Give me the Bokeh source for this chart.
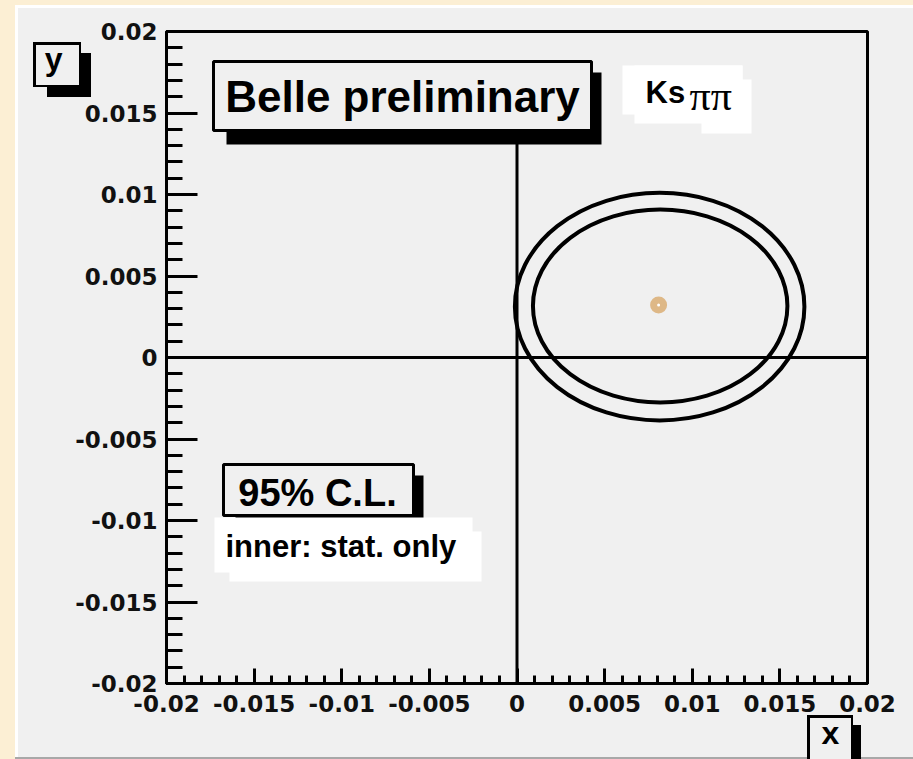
from bokeh.plotting import figure
from bokeh.models import BoxAnnotation, Label, Range1d, FixedTicker, LinearAxis
from bokeh.embed import file_html
from bokeh.resources import INLINE

# ---------------- data ----------------
x_major_ticks = [-0.02, -0.015, -0.01, -0.005, 0.0, 0.005, 0.01, 0.015, 0.02]
x_tick_labels = ["-0.02", "-0.015", "-0.01", "-0.005", "0", "0.005", "0.01", "0.015", "0.02"]
y_major_ticks = [-0.02, -0.015, -0.01, -0.005, 0.0, 0.005, 0.01, 0.015, 0.02]
y_tick_labels = ["-0.02", "-0.015", "-0.01", "-0.005", "0", "0.005", "0.01", "0.015", "0.02"]
minor_ticks = [i * 0.001 for i in range(-20, 21)]

# 95% C.L. contours (outer: stat.+syst., inner: stat. only)
contour_names = ["outer", "inner"]
contour_cx = [0.00814, 0.00817]
contour_cy = [0.00312, 0.00316]
contour_w = [0.01652, 0.01452]
contour_h = [0.01396, 0.01183]

# best fit point
best_x = [0.00808]
best_y = [0.00322]

# reference lines x=0 and y=0
ref_x0 = [0.0, -0.02]
ref_y0 = [-0.02, 0.0]
ref_x1 = [0.0, 0.02]
ref_y1 = [0.0135, 0.0]

# axis titles (placed at the pad corners as in ROOT)
x_title = "x"
y_title = "y"
x_title_pos = 0.01789
y_title_pos = 0.01829

# ---------------- layout ----------------
W, H = 913, 759
FL, FR, FT, FB = 166, 867, 31, 683
CREAM = "#fcefd4"
PAD = "#f0f0f0"

p = figure(width=W, height=H, output_backend="svg", toolbar_location=None,
           x_range=Range1d(-0.02, 0.02), y_range=Range1d(-0.02, 0.02),
           min_border_left=FL, min_border_right=W - FR,
           min_border_top=FT, min_border_bottom=H - FB)
p.border_fill_color = None
p.background_fill_color = PAD
p.outline_line_color = "black"
p.outline_line_width = 3
p.xgrid.visible = False
p.ygrid.visible = False


def css_rect(l, t, r, b, color):
    return f"linear-gradient({color},{color}) {l}px {t}px / {r - l}px {b - t}px no-repeat"


# page decorations outside the frame (drawn as CSS background layers, top first)
layers = [
    css_rect(809.5, 717.5, 850.5, 762, PAD),     # x title box inside
    css_rect(807, 715, 853, 762, "#000"),        # x title box border
    css_rect(817, 725, 861, 762, "#000"),        # x title box shadow
    css_rect(35.5, 44.5, 78.5, 84.5, PAD),       # y title box inside
    css_rect(33, 42, 81, 87, "#000"),            # y title box border
    css_rect(47, 53, 91, 97, "#000"),            # y title box shadow
    css_rect(15, 757, 913, 759, "#a8a8a8"),      # pad lower edge
    css_rect(18, 8, 913, 757, PAD),              # pad
    css_rect(15, 5, 913, 759, "#ffffff"),        # pad highlight
]
p.styles = {"background": ", ".join(layers) + ", " + CREAM}


def sx(cx):
    return cx - FL


def sy(cy):
    return FB - cy


def box(l, t, r, b, fill, line=None, lw=0, level="annotation"):
    p.add_layout(BoxAnnotation(left=sx(l), right=sx(r), top=sy(t), bottom=sy(b),
                               left_units="screen", right_units="screen",
                               top_units="screen", bottom_units="screen",
                               fill_color=fill, fill_alpha=1.0,
                               line_color=line, line_alpha=1.0, line_width=lw,
                               level=level))


def label(cx, cy, text, size, font="Liberation Sans", style="bold",
          align="left", baseline="middle"):
    p.add_layout(Label(x=sx(cx), y=sy(cy), x_units="screen", y_units="screen",
                       text=text, text_font=font, text_font_size=size,
                       text_font_style=style, text_align=align,
                       text_baseline=baseline, text_color="black",
                       level="overlay"))


# ---------------- axes ----------------
def style_axis(ax):
    ax.axis_line_width = 3
    ax.axis_line_color = "black"
    ax.major_tick_line_width = 3
    ax.minor_tick_line_width = 3
    ax.major_tick_out = 0
    ax.minor_tick_out = 0
    ax.major_label_text_font = "DejaVu Sans"
    ax.major_label_text_font_style = "bold"
    ax.major_label_text_font_size = "23px"
    ax.major_label_text_color = "#111111"


for ax, majors, labels in ((p.xaxis[0], x_major_ticks, x_tick_labels),
                           (p.yaxis[0], y_major_ticks, y_tick_labels)):
    ax.ticker = FixedTicker(ticks=majors, minor_ticks=minor_ticks)
    ax.major_label_overrides = {t: s for t, s in zip(majors, labels)}
    style_axis(ax)

p.xaxis.major_tick_in = 15
p.xaxis.minor_tick_in = 8
p.xaxis.major_label_standoff = 11
p.yaxis.major_tick_in = 31
p.yaxis.minor_tick_in = 16
p.yaxis.major_label_standoff = 9


def title_axis(pos, text):
    ax = LinearAxis(ticker=FixedTicker(ticks=[pos], minor_ticks=[]),
                    major_label_overrides={pos: text})
    ax.axis_line_color = None
    ax.major_tick_line_color = None
    ax.minor_tick_line_color = None
    ax.major_tick_in = 0
    ax.major_tick_out = 0
    ax.minor_tick_in = 0
    ax.minor_tick_out = 0
    ax.major_label_text_font = "Liberation Sans"
    ax.major_label_text_font_style = "bold"
    ax.major_label_text_font_size = "32px"
    ax.major_label_text_color = "black"
    return ax


y_ax = title_axis(y_title_pos, y_title)
y_ax.major_label_standoff = 10
p.add_layout(y_ax, "left")

x_ax = title_axis(x_title_pos, x_title)
x_ax.major_label_standoff = 0
p.add_layout(x_ax, "below")

# ---------------- data marks ----------------
p.segment(x0=ref_x0, y0=ref_y0, x1=ref_x1, y1=ref_y1, line_color="black", line_width=3)
p.ellipse(x=contour_cx, y=contour_cy, width=contour_w, height=contour_h,
          fill_color=None, line_color="black", line_width=4)
p.scatter(x=best_x, y=best_y, marker="circle", size=10, fill_color="white",
          line_color="#deb887", line_width=7)

# ---------------- text boxes ----------------
# Belle preliminary
box(226, 72, 601, 144, "black")
box(213, 61, 591, 130, PAD, "black", 3)
label(402, 96, "Belle preliminary", "44px", align="center")

# K_s pi pi
box(622, 65, 742, 114, "white")
box(634, 65, 742, 123, "white")
box(701, 79, 751, 133, "white")
label(645, 92, "Ks", "31px")
label(689, 95, "\u03c0\u03c0", "42px", font="Liberation Serif", style="normal")

# 95% C.L.
box(235, 475, 423, 524, "black")
box(223, 464, 413, 515, PAD, "black", 3)
label(317, 492, "95% C.L.", "38px", align="center")

# inner: stat. only
box(214, 517, 472, 572, "white")
box(229, 531, 481, 581, "white")
label(225, 546, "inner: stat. only", "31px")

open("out.html", "w").write(file_html(p, INLINE))
